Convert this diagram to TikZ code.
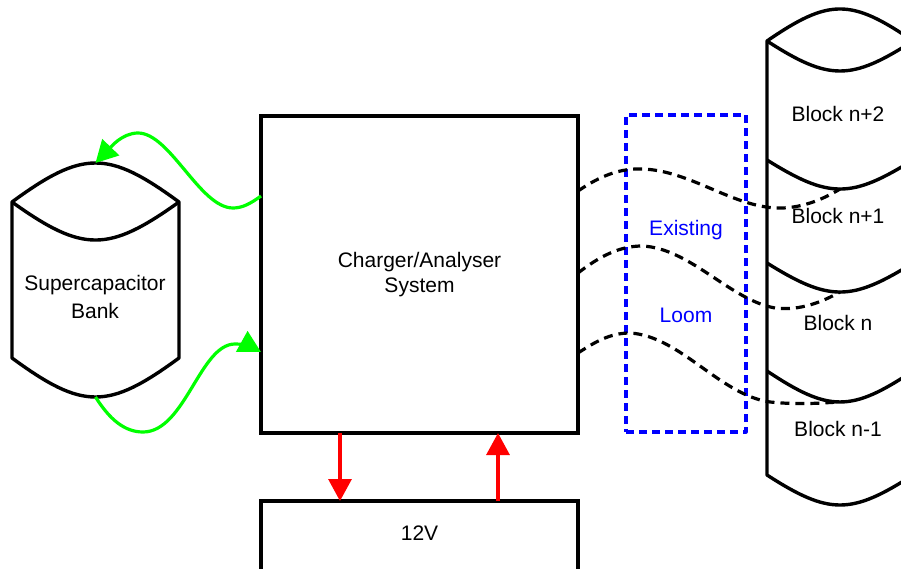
\documentclass[tikz,border=0pt]{standalone}
\usepackage{fontspec}
\setmainfont{Liberation Sans}
\usetikzlibrary{arrows.meta}
\begin{document}
\begin{tikzpicture}[x=1pt,y=-1pt,line join=round,
  lbl/.style={font=\fontsize{21}{25}\selectfont, inner sep=0pt, align=center},
  boxnode/.style={draw=black, line width=3.4pt, line join=miter, inner sep=0pt, outer sep=0pt},
  outline/.style={draw=black, line width=3.4pt},
  gconn/.style={draw=green, line width=3.2pt, -{Triangle[length=22pt,width=23pt]}},
  rconn/.style={draw=red, line width=3.2pt, -{Triangle[length=22pt,width=23pt]}},
  loomline/.style={draw=black, line width=3.2pt, dash pattern=on 9pt off 6pt},
  loombox/.style={draw=blue, line width=3.2pt, dash pattern=on 8pt off 5pt, inner sep=0pt, outer sep=0pt},
]
\useasboundingbox (0,0) rectangle (901,569);
% supercapacitor bank
\draw[outline] (12,358) -- (12,202)
  .. controls (82.9,150) and (108.1,150) .. (179,202) -- (179,358)
  .. controls (108.1,410) and (82.9,410) .. cycle;
\draw[outline] (12,202) .. controls (82.9,252.7) and (108.1,252.7) .. (179,202);
\coordinate (sctop) at (95.5,163);
\coordinate (scbot) at (95.5,397);
\node[lbl, font=\fontsize{21}{28}\selectfont] (sc) at (95,296.5) {Supercapacitor\\Bank};
% charger
\node[boxnode, lbl, minimum width=317pt, minimum height=317pt] (main) at (419.5,274.5) {Charger/Analyser\\System};
% 12V
\node[boxnode, lbl, minimum width=317pt, minimum height=80pt, text height=15pt, text depth=15.6pt] (v12) at (419.5,541) {12V};
% red arrows
\draw[rconn] ([xshift=79pt]main.south west) -- ([xshift=79pt]v12.north west);
\draw[rconn] ([xshift=237pt]v12.north west) -- ([xshift=237pt]main.south west);
% green arrows
\draw[gconn] ([yshift=78.5pt]main.west) .. controls (250,204) and (242,208) .. (233,208)
  .. controls (200,208) and (170,133) .. (138,133)
  .. controls (122,133) and (110,148) .. (sctop);
\draw[gconn] (scbot) .. controls (110,420) and (125,432) .. (143,432)
  .. controls (185,432) and (200,344) .. (235,344)
  .. controls (245,344) and (252,347) .. ([yshift=-77.5pt]main.west);
% existing loom
\node[loombox, minimum width=120pt, minimum height=317pt] (loom) at (686,273.5) {};
\node[lbl, text=blue] (existing) at (686,229.7) {Existing};
\node[lbl, text=blue] (loomtxt) at (686,315.5) {Loom};
% battery blocks
\draw[outline] (767,475) -- (767,41) .. controls (829,-1.7) and (851,-1.7) .. (913,41) -- (913,475)
  .. controls (851,515) and (829,515) .. cycle;
\draw[outline] (767,41) .. controls (829,81) and (851,81) .. (913,41);
\draw[outline] (767,160) .. controls (829,198.7) and (851,198.7) .. (913,160);
\draw[outline] (767,263) .. controls (829,301.7) and (851,301.7) .. (913,263);
\draw[outline] (767,371) .. controls (829,412.3) and (851,412.3) .. (913,371);
\coordinate (d1) at (840,189);
\coordinate (d2) at (840,292);
\coordinate (d3) at (840,402);
\node[lbl] (bn2) at (838,113.5) {Block n+2};
\node[lbl] (bn1) at (838,215.5) {Block n+1};
\node[lbl] (bn) at (838,322.5) {Block n};
\node[lbl] (bm1) at (838,429) {Block n-1};
% loom wires
\draw[loomline] ([yshift=83.5pt]main.east) .. controls (600,176) and (620,168) .. (643,169)
  .. controls (690,171) and (730,205) .. (775,208)
  .. controls (800,209) and (822,200) .. (d1);
\draw[loomline] ([yshift=1.5pt]main.east) .. controls (600,256) and (620,246) .. (642,246)
  .. controls (690,248) and (730,300) .. (775,308)
  .. controls (800,311) and (822,302) .. (d2);
\draw[loomline] ([yshift=-78.5pt]main.east) .. controls (595,342) and (610,333) .. (630,333)
  .. controls (680,336) and (720,395) .. (770,402)
  .. controls (800,405) and (820,403) .. (d3);
\end{tikzpicture}
\end{document}
